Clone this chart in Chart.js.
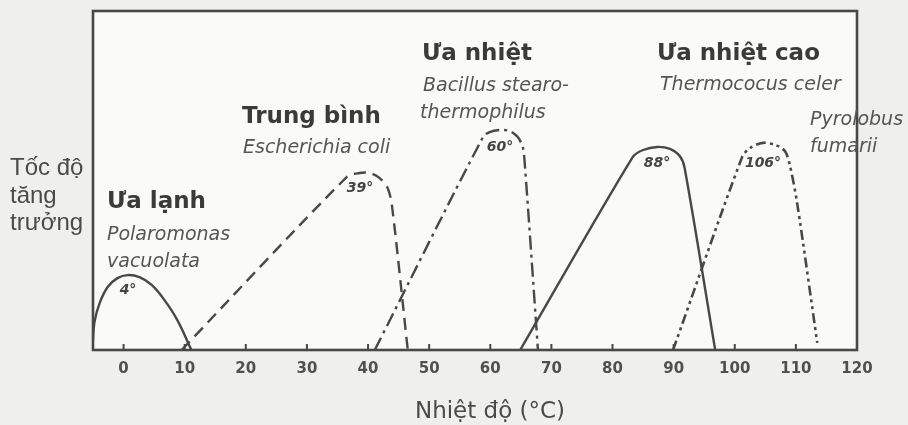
<!DOCTYPE html>
<html>
<head>
<meta charset="utf-8">
<script src="https://cdn.jsdelivr.net/npm/chart.js@4"></script>
<style>
html,body{margin:0;padding:0;background:#efefed}
#wrap{width:908px;height:425px}
</style>
</head>
<body>
<div id="wrap"><canvas id="c" width="908" height="425"></canvas></div>
<script>
// temperature (°C) / relative growth rate
const lanhT=[-5.1,-4.75,-3.9,-2.6,-1,0.65,2.6,4.6,6.7,8.8,11.1];
const lanhG=[0,8.3,13.9,18.6,21.2,22.1,21.5,19.2,14.7,8.8,0];
const tbT=[9.5,36.5,38.6,40.3,41.9,43.2,43.9,46.5];
const tbG=[0,51,52.2,52.2,50.7,47.8,42.8,0];
const nhietT=[41.1,58.8,59.9,61.6,63.2,64.5,65.3,65.6,67.8];
const nhietG=[0,62.8,64.3,64.9,64.6,62.8,59.9,56,0];
const caoT=[64.9,83.3,85,87.3,89.4,91,91.8,96.8];
const caoG=[0,56.9,59,59.9,59.3,57.2,53.7,0];
const pyroT=[89.9,101.2,102.5,104.6,106.6,108.2,109,110.2,113.5];
const pyroG=[0,56.9,59.6,61.1,60.5,58.7,54.6,43.4,2.1];
const xTicks=[0,10,20,30,40,50,60,70,80,90,100,110,120];

const pts=(t,g)=>t.map((v,i)=>({x:v,y:g[i]}));
const INK='#484848';

function ds(t,g,dash,w,ten){return{data:pts(t,g),borderColor:INK,borderWidth:w||2.4,borderDash:dash,pointRadius:0,tension:ten==null?0.3:ten,fill:false}}

const H='bold 23px "DejaVu Sans"',I='oblique 19px "DejaVu Sans"',Y='24px "Liberation Sans"';
const txt=[
  // [text, x, y, font, colour]
  ['Ưa lạnh',107,208,H,'#3a3a3a'],
  ['Polaromonas',107,240,I,'#555'],
  ['vacuolata',107,267,I,'#555'],
  ['Trung bình',242,123,H,'#3a3a3a'],
  ['Escherichia coli',243,153,I,'#555'],
  ['Ưa nhiệt',422,60,H,'#3a3a3a'],
  ['Bacillus stearo-',423,91,I,'#555'],
  ['thermophilus',420,118,I,'#555'],
  ['Ưa nhiệt cao',657,60,H,'#3a3a3a'],
  ['Thermococus celer',660,90,I,'#555'],
  ['Pyrolobus',810,125,I,'#555'],
  ['fumarii',810,152,I,'#555'],
  ['T\u1ed1c \u0111\u1ed9',10,175,Y,'#4a4a4a'],
  ['t\u0103ng',10,203,Y,'#4a4a4a'],
  ['tr\u01b0\u1edfng',10,230,Y,'#4a4a4a'],
];
const opt=[['4°',128,290],['39°',360,188],['60°',500,147],['88°',657,163],['106°',763,163]];

const deco={
  id:'deco',
  beforeDraw(ch){
    const {ctx,chartArea:a}=ch;
    ctx.save();
    ctx.fillStyle='#fafaf8';
    ctx.fillRect(a.left,a.top,a.right-a.left,a.bottom-a.top);
    ctx.restore();
  },
  afterDraw(ch){
    const {ctx,chartArea:a}=ch;const sx=ch.scales.x;
    ctx.save();
    ctx.strokeStyle=INK;ctx.lineWidth=2.6;
    ctx.strokeRect(a.left,a.top,a.right-a.left,a.bottom-a.top);
    ctx.lineWidth=2;
    sx.ticks.forEach(t=>{if(t.value<0||t.value>=120)return;const x=sx.getPixelForValue(t.value);ctx.beginPath();ctx.moveTo(x,a.bottom);ctx.lineTo(x,a.bottom-6);ctx.stroke()});
    ctx.textBaseline='alphabetic';ctx.textAlign='left';
    txt.forEach(([s,x,y,f,c])=>{ctx.font=f;ctx.fillStyle=c;ctx.fillText(s,x,y)});
    ctx.textAlign='center';ctx.textBaseline='middle';ctx.font='bold oblique 14px "DejaVu Sans"';ctx.fillStyle='#444';
    opt.forEach(([s,x,y])=>ctx.fillText(s,x,y));
    ctx.font='23px "DejaVu Sans"';ctx.fillStyle='#4a4a4a';ctx.textBaseline='alphabetic';
    ctx.fillText('Nhi\u1ec7t \u0111\u1ed9 (°C)',490,418);
    ctx.restore();
  }
};

new Chart(document.getElementById('c'),{
  type:'line',
  data:{datasets:[
    ds(lanhT,lanhG,[],2.4,0.4),
    ds(tbT,tbG,[12,7]),
    ds(nhietT,nhietG,[14,5,3,5]),
    ds(caoT,caoG,[]),
    ds(pyroT,pyroG,[10,4,3,4,3,4],2.6)
  ]},
  options:{
    responsive:false,animation:false,
    layout:{padding:{left:93,right:51,top:11,bottom:0}},
    plugins:{legend:{display:false},tooltip:{enabled:false}},
    scales:{
      x:{type:'linear',min:-5,max:120,
        afterBuildTicks:s=>{s.ticks=xTicks.map(v=>({value:v}))},
        afterFit:s=>{s.height=75},
        grid:{display:false,drawTicks:false},border:{display:false},
        ticks:{padding:10,color:'#505050',font:{family:'DejaVu Sans',weight:'bold',size:15},maxRotation:0,autoSkip:false}},
      y:{display:false,min:0,max:100}
    }
  },
  plugins:[deco]
});
</script>
</body>
</html>
